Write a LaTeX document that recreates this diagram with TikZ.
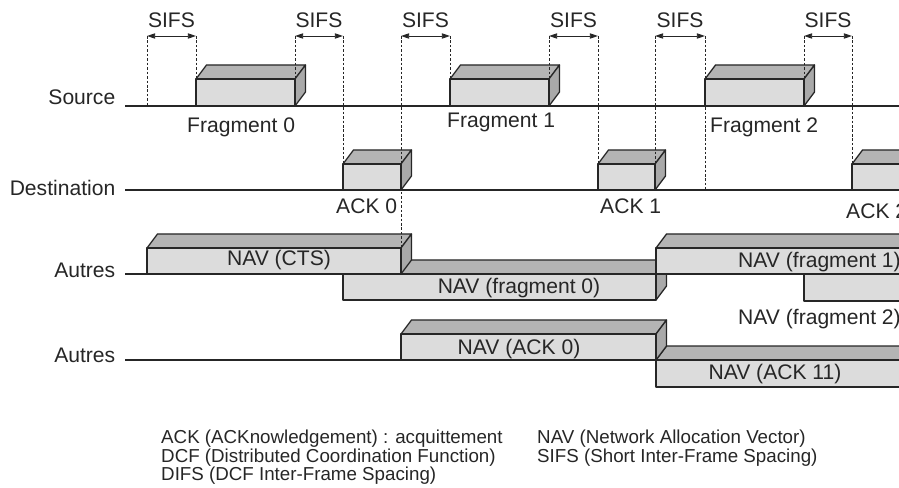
\documentclass[tikz,border=0pt]{standalone}
\usepackage{fontspec}
\setmainfont{Liberation Sans}
\usepackage{xcolor}
\usepackage{tikz}
\usetikzlibrary{arrows.meta}
\definecolor{frontgray}{HTML}{DCDCDC}
\definecolor{topgray}{HTML}{B4B4B4}
\definecolor{sidegray}{HTML}{A9A9A9}
\definecolor{inkgray}{HTML}{262626}
% slab seen from the front: left x, top y, right x, bottom y
\newcommand{\slab}[4]{%
  \filldraw[topface] (#1,#2) -- (#1+10.5,#2-14) -- (#3+10.5,#2-14) -- (#3,#2) -- cycle;
  \filldraw[sideface] (#3,#2) -- (#3+10.5,#2-14) -- (#3+10.5,#4-14) -- (#3,#4) -- cycle;
  \filldraw[frontface] (#1,#2) rectangle (#3,#4);
}

\begin{document}
\begin{tikzpicture}[
  x=0.03cm, y=-0.03cm,
  timeline/.style={draw=inkgray, line width=1.1pt},
  frontface/.style={fill=frontgray, draw=inkgray, line width=1.1pt, line join=round},
  topface/.style={fill=topgray, draw=inkgray, line width=1.1pt, line join=round},
  sideface/.style={fill=sidegray, draw=inkgray, line width=1.1pt, line join=round},
  sifsmark/.style={draw=inkgray, line width=0.8pt, dash pattern=on 2.2pt off 1.6pt},
  sifs/.style={{Triangle[length=7pt,width=4.5pt]}-{Triangle[length=7pt,width=4.5pt]}, draw=inkgray, line width=0.8pt},
  lbl/.style={font=\fontsize{18}{21}\selectfont, text=inkgray, inner sep=0pt},
  legend/.style={font=\fontsize{16}{15.8}\selectfont, text=inkgray, inner sep=0pt, align=left}
]
  \useasboundingbox (0,0) rectangle (899,488);

  % Stations
  \node[lbl, anchor=east] (src) at (115.5,97) {Source};
  \node[lbl, anchor=east] (dst) at (115.5,187.5) {Destination};
  \node[lbl, anchor=east] (oth) at (115.5,270) {Autres};
  \node[lbl, anchor=east] (othb) at (115.5,355.5) {Autres};
  \foreach \name/\y in {src/106, dst/190, oth/274, othb/360}
    \draw[timeline] (125,\y) coordinate (\name-l) -- (910,\y) coordinate (\name-r);

  % Source: fragments
  \slab{196}{79}{295}{106}
  \slab{450}{79}{549}{106}
  \slab{705}{79}{804}{106}
  \node[lbl, anchor=base west] (frag0) at (187,133) {Fragment 0};
  \node[lbl, anchor=base west] (frag1) at (447,128) {Fragment 1};
  \node[lbl, anchor=base west] (frag2) at (710,133) {Fragment 2};

  % Destination: acknowledgements
  \slab{343}{164}{401}{190}
  \slab{598}{164}{655}{190}
  \slab{852}{164}{910}{190}
  \node[lbl, anchor=base west] (ack0) at (336,214) {ACK 0};
  \node[lbl, anchor=base west] (ack1) at (600,214) {ACK 1};
  \node[lbl, anchor=base west] (ack2) at (846,219) {ACK 2};

  % Others: NAV set by CTS and fragments
  \slab{804}{274}{940}{301}
  \slab{343}{274}{656}{300}
  \slab{147}{248}{401}{274}
  \slab{656}{248}{940}{274}
  \node[lbl] (navcts) at (279,260) {NAV (CTS)};
  \node[lbl] (navf0) at (519,288) {NAV (fragment 0)};
  \node[lbl, anchor=west] (navf1) at (738,262) {NAV (fragment 1)};
  \node[lbl, anchor=west] (navf2) at (738,319) {NAV (fragment 2)};

  % Others: NAV set by ACKs
  \slab{656}{360}{940}{387}
  \slab{401}{334}{656}{360}
  \node[lbl] (navack0) at (519,349) {NAV (ACK 0)};
  \node[lbl] (navack11) at (775,374) {NAV (ACK 11)};

  % SIFS gaps
  \foreach \i/\xa/\ya/\xb/\yb in {1/147/106/196/79, 2/295/79/343/164, 3/401/248/450/79,
                                  4/549/79/598/164, 5/655/164/705/190, 6/804/79/852/164} {
    \coordinate (s\i-a) at (\xa,36);
    \coordinate (s\i-b) at (\xb,36);
    \coordinate (e\i-a) at (\xa,\ya);
    \coordinate (e\i-b) at (\xb,\yb);
    \draw[sifsmark] (s\i-a) -- (e\i-a);
    \draw[sifsmark] (s\i-b) -- (e\i-b);
    \draw[sifs] (s\i-a) -- node[lbl, above=7pt] (sifs\i) {SIFS} (s\i-b);
  }

  % Legend
  \node[legend, anchor=north west] (legL) at (161,430)
    {ACK (ACKnowledgement) : acquittement\\DCF (Distributed Coordination Function)\\DIFS (DCF Inter-Frame Spacing)};
  \node[legend, anchor=north west] (legR) at (537,430)
    {NAV (Network Allocation Vector)\\SIFS (Short Inter-Frame Spacing)};
\end{tikzpicture}
\end{document}
